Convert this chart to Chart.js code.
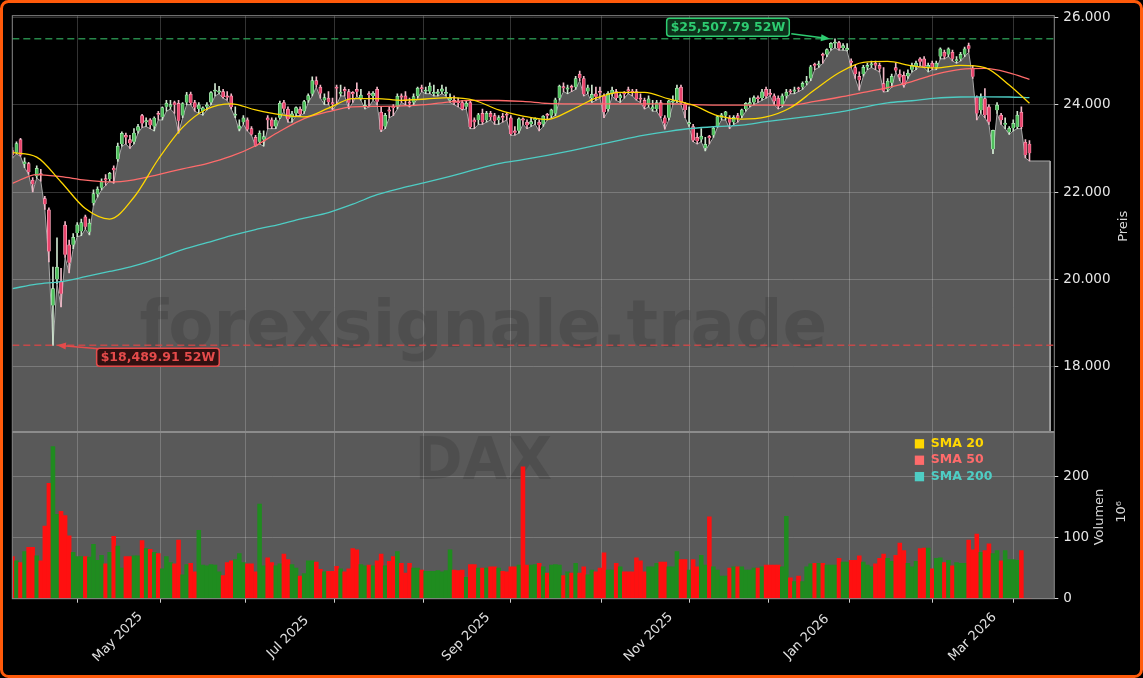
<!DOCTYPE html>
<html>
<head>
<meta charset="utf-8">
<script src="https://cdn.jsdelivr.net/npm/chart.js@4.4.1/dist/chart.umd.min.js"></script>
<style>
  html, body { margin: 0; padding: 0; background: #000; overflow: hidden; }
  #myChart { display: block; }
</style>
</head>
<body>
<canvas id="myChart" width="1143" height="678"></canvas>
<script>
// DAX daily candles [open, high, low, close], 24.03.2025 - 20.03.2026 (trading days)
const candles = [
    // Mar 2025
    [22950,23020,22780,22850],[22900,23150,22870,23110],[23200,23230,22820,22840],[22640,22780,22560,22690],
    [22650,22680,22400,22460],[22270,22330,22000,22180],
    // Apr
    [22360,22600,22320,22540],[22420,22520,22250,22390],[21850,21900,21600,21720],[21590,21640,20400,20640],
    [19400,20280,18489.91,19790],[20000,20950,19900,20280],[19950,20250,19370,19670],[21240,21320,20500,20563],
    [20790,20900,20150,20380],[20790,21050,20700,20960],[21060,21300,20980,21250],[21100,21380,21000,21300],
    [21430,21470,21150,21206],[21090,21380,21020,21290],[21750,22050,21700,21962],[21950,22120,21880,22065],
    [22100,22300,22050,22242],[22300,22400,22150,22272],[22300,22450,22250,22425],[22550,22600,22200,22497],
    // May
    [22750,23120,22700,23050],[23100,23380,23050,23344],[23300,23350,23100,23249],[23200,23300,23000,23116],
    [23150,23450,23100,23352],[23400,23550,23350,23499],[23750,23780,23480,23570],[23600,23700,23500,23638],
    [23650,23680,23450,23527],[23500,23720,23400,23695],[23800,23850,23650,23767],[23720,23950,23650,23934],
    [23950,24100,23850,24036],[23950,24100,23900,23999],[24050,24080,23800,23999],[24030,24100,23350,23630],
    [23750,24050,23700,24027],[24050,24280,24000,24226],[24240,24290,24000,24038],[24050,24100,23850,23933],
    [23900,24050,23800,23997],
    // Jun
    [23850,23950,23760,23930],[23950,24050,23880,23994],[24050,24300,24000,24276],[24300,24480,24200,24323],
    [24280,24420,24250,24304],[24300,24350,24150,24174],[24200,24300,24100,24162],[24200,24250,23900,23948],
    [23750,23950,23700,23771],[23450,23650,23400,23516],[23600,23750,23550,23699],[23650,23700,23400,23434],
    [23450,23500,23300,23317],[23250,23300,23050,23057],[23150,23400,23100,23350],[23200,23400,23050,23269],
    [23700,23750,23450,23641],[23650,23700,23450,23498],[23500,23700,23450,23649],[23700,24080,23680,24033],
    [24050,24100,23850,23909],
    // Jul
    [23900,23950,23600,23673],[23700,23850,23600,23790],[23800,23950,23750,23934],[23900,23950,23750,23787],
    [23850,24100,23800,24073],[24100,24250,24050,24206],[24250,24640,24200,24549],[24550,24640,24400,24457],
    [24400,24450,24150,24255],[24100,24250,24000,24161],[24150,24300,24000,24060],[24050,24150,23880,24009],
    [24400,24450,24000,24371],[24250,24450,24200,24290],[24350,24400,24200,24308],[24300,24350,23900,24041],
    [24280,24300,24050,24240],[24350,24500,24200,24295],[24150,24350,24100,24217],[23950,24100,23900,23970],
    [24250,24300,23950,24218],[24200,24300,24100,24262],[24350,24400,24000,24065],
    // Aug
    [23830,23950,23380,23426],[23500,23800,23450,23757],[23880,23950,23700,23846],[23950,24000,23750,23924],
    [23950,24250,23900,24193],[24200,24250,24050,24163],[24200,24300,24000,24081],[24050,24150,23950,24024],
    [24050,24250,24000,24186],[24200,24400,24150,24377],[24380,24450,24300,24359],[24300,24400,24250,24314],
    [24300,24500,24250,24423],[24250,24450,24200,24277],[24250,24350,24200,24293],[24300,24450,24250,24363],
    [24250,24400,24200,24273],[24100,24250,24050,24152],[24100,24200,24000,24046],[24050,24150,23950,24039],
    [24050,24100,23880,23902],
    // Sep
    [23950,24100,23900,24037],[24050,24100,23450,23487],[23650,23700,23450,23595],[23650,23800,23550,23770],
    [23800,23900,23550,23597],[23650,23850,23600,23807],[23800,23850,23650,23718],[23750,23800,23550,23632],
    [23650,23750,23550,23703],[23720,23800,23600,23698],[23780,23820,23650,23749],[23700,23750,23300,23329],
    [23400,23500,23300,23359],[23400,23700,23350,23675],[23650,23700,23550,23639],[23600,23650,23450,23527],
    [23550,23700,23500,23611],[23650,23700,23550,23666],[23600,23650,23400,23534],[23550,23750,23500,23739],
    [23760,23800,23650,23745],[23750,23900,23700,23880],
    // Oct
    [23800,24150,23750,24113],[24150,24450,24100,24423],[24400,24500,24300,24378],[24350,24450,24250,24378],
    [24400,24450,24300,24385],[24400,24650,24350,24597],[24700,24770,24550,24611],[24600,24650,24200,24241],
    [24300,24450,24250,24388],[24150,24450,24050,24237],[24250,24400,24100,24181],[24300,24400,24150,24272],
    [24200,24250,23700,23830],[23900,24300,23850,24259],[24250,24400,24200,24330],[24300,24350,24100,24151],
    [24150,24250,24050,24207],[24260,24300,24150,24240],[24330,24400,24250,24309],[24300,24350,24200,24279],
    [24300,24350,24100,24124],[24150,24250,24050,24118],[24100,24150,23900,23958],
    // Nov
    [24000,24200,23950,24132],[23900,24100,23850,23950],[23900,24100,23850,24050],[24050,24100,23700,23734],
    [23700,23750,23440,23569],[23700,24100,23650,24088],[24050,24200,24000,24088],[24100,24450,24050,24381],
    [24400,24450,24000,24041],[24000,24050,23700,23877],[23550,23950,23500,23590],[23500,23550,23150,23180],
    [23250,23350,23100,23162],[23200,23450,23150,23278],[23010,23250,22940,23091],[23280,23300,23100,23239],
    [23300,23500,23250,23465],[23500,23750,23480,23726],[23700,23800,23650,23768],[23750,23850,23650,23836],
    // Dec
    [23700,23750,23450,23589],[23600,23750,23550,23710],[23750,23800,23600,23693],[23750,23900,23700,23882],
    [23900,24050,23850,24028],[24000,24150,23950,24046],[24050,24200,24000,24162],[24150,24200,24050,24130],
    [24150,24350,24100,24294],[24350,24400,24150,24186],[24250,24350,24200,24229],[24200,24250,24000,24076],
    [24150,24200,23900,23960],[24000,24250,23950,24200],[24200,24350,24150,24288],[24300,24350,24250,24283],
    [24300,24400,24250,24340],[24380,24400,24300,24351],[24400,24520,24350,24490],
    // Jan 2026
    [24500,24650,24450,24539],[24600,24900,24550,24868],[24900,24950,24800,24892],[24900,25000,24850,24925],
    [25140,25180,24950,25122],[25150,25280,25100,25261],[25300,25420,25250,25405],[25400,25507.79,25300,25420],
    [25420,25450,25250,25286],[25300,25400,25250,25352],[25250,25400,25230,25297],[25000,25050,24850,24959],
    [24850,24900,24600,24703],[24650,24750,24330,24560],[24700,24900,24650,24856],[24850,24950,24800,24900],
    [24900,25000,24850,24933],[24950,25000,24800,24894],[24900,24950,24750,24822],[24480,24850,24290,24320],
    [24350,24600,24300,24538],
    // Feb
    [24500,24700,24400,24650],[24850,24950,24750,24780],[24700,24800,24550,24620],[24670,24750,24400,24450],
    [24650,24800,24600,24720],[24800,24950,24750,24900],[24880,25000,24800,24950],[25050,25080,24900,24980],
    [25050,25100,24850,24870],[24850,24950,24750,24900],[24950,25000,24800,24850],[24850,25000,24800,24950],
    [25100,25300,25050,25280],[25200,25250,25050,25100],[25150,25300,25100,25280],[25200,25250,25000,25050],
    [25000,25100,24950,25020],[25050,25200,25000,25150],[25150,25320,25100,25280],[25350,25410,25200,25280],
    // Mar
    [24830,24900,24600,24640],[24170,24200,23650,23800],[23870,24250,23800,24170],[24140,24370,23700,23760],
    [23950,24000,23550,23610],[22980,23420,22880,23410],[23870,24050,23800,23990],[23760,23800,23550,23650],
    [23540,23700,23450,23580],[23370,23500,23320,23460],[23460,23650,23400,23570],[23490,23850,23450,23760],
    [23830,23950,23450,23490],[23140,23200,22780,22850],[23100,23180,22710,22890]
];

// volume in 10^6
const volumes = [
    69,62,59,77,84,84,
    70,62,119,189,249,138,143,136,103,76,69,69,69,68,89,63,71,57,76,102,
    86,50,69,69,70,70,95,82,81,76,74,49,69,59,57,96,39,56,58,44,112,
    55,54,56,55,44,38,59,62,64,74,59,57,57,44,155,54,67,59,54,57,73,
    64,56,50,37,41,62,62,60,48,44,45,45,53,49,44,49,82,80,56,54,55,54,62,
    73,54,61,69,77,58,42,58,50,50,47,45,45,45,46,44,46,80,47,46,47,
    35,56,56,50,50,50,52,52,50,45,44,52,52,55,216,55,55,56,58,52,42,55,
    56,55,38,44,42,58,42,52,39,47,44,50,75,47,47,58,52,44,44,44,67,62,44,
    52,52,58,60,60,52,52,77,64,64,47,64,52,71,55,134,52,47,37,37,
    50,52,52,52,47,47,50,50,52,55,55,55,55,52,135,34,28,37,28,
    52,57,58,58,58,55,55,55,66,60,60,63,63,70,60,55,52,57,66,73,66,
    61,71,91,79,58,52,61,82,83,83,49,66,67,59,63,54,59,58,58,96,
    80,106,76,79,90,74,79,62,79,64,64,63,79,0,0
];

// moving averages at these trading-day indices
const smaIdx = [0,6,12,18,24,30,36,42,48,54,60,66,72,78,84,90,96,102,108,114,120,126,132,138,144,150,
    156,162,168,174,180,186,192,198,204,210,216,222,228,234,240,246,251];
const sma20 = [22900,22800,22230,21620,21380,21880,22750,23480,23900,24020,23880,23770,23720,23920,24140,
    24140,24100,24130,24160,24100,23880,23740,23660,23880,24150,24280,24280,24130,23990,23750,23670,
    23720,23930,24340,24730,24970,24990,24890,24840,24900,24850,24450,24030];
const sma50 = [22200,22400,22350,22270,22230,22280,22400,22530,22650,22820,23060,23390,23680,23840,23950,
    23960,23970,24000,24065,24100,24095,24075,24030,24020,24020,24020,24020,24020,24000,23990,23990,
    23990,23990,24075,24170,24280,24390,24530,24700,24810,24830,24730,24580];
const sma200 = [19790,19890,19950,20060,20180,20310,20480,20680,20840,21000,21140,21260,21400,21530,21720,
    21940,22090,22220,22360,22510,22650,22740,22840,22950,23070,23190,23300,23390,23460,23500,23530,
    23610,23680,23750,23830,23940,24040,24090,24150,24175,24180,24175,24160];

// first trading day of each month
const monthTicks = [6,26,47,68,91,112,134,157,177,196,217,237];
const monthLabels = ['','May 2025','','Jul 2025','','Sep 2025','','Nov 2025','','Jan 2026','','Mar 2026'];

const high52 = 25507.79;
const low52 = 18489.91;
const areaEndIndex = 256.1;

const FONT = 'DejaVu Sans';
const priceMin = 16505, priceMax = 26037;

const isUp = candles.map(c => c[3] >= c[0]);
const hiIdx = candles.findIndex(c => c[1] === high52);
const loIdx = candles.findIndex(c => c[2] === low52);

var areaData = candles.map((c, i) => ({x: i, y: c[2]}));
areaData.push({x: areaEndIndex, y: candles[candles.length - 1][2]});
areaData.push({x: areaEndIndex, y: priceMin});

function fmtDe(v) {
    return String(v).replace(/\B(?=(\d{3})+(?!\d))/g, '.');
}

function roundRect(ctx, x, y, w, h, r) {
    ctx.beginPath();
    ctx.moveTo(x + r, y);
    ctx.arcTo(x + w, y, x + w, y + h, r);
    ctx.arcTo(x + w, y + h, x, y + h, r);
    ctx.arcTo(x, y + h, x, y, r);
    ctx.arcTo(x, y, x + w, y, r);
    ctx.closePath();
}

function drawTag(ctx, text, cx, cy, fg, bg) {
    ctx.font = 'bold 12.5px ' + FONT;
    var w = ctx.measureText(text).width + 8, h = 18;
    roundRect(ctx, cx - w / 2, cy - h / 2, w, h, 3);
    ctx.fillStyle = bg;
    ctx.fill();
    ctx.lineWidth = 1.5;
    ctx.strokeStyle = fg;
    ctx.stroke();
    ctx.fillStyle = fg;
    ctx.textAlign = 'center';
    ctx.textBaseline = 'middle';
    ctx.fillText(text, cx, cy + 0.5);
    return w;
}

function drawArrow(ctx, x0, y0, x1, y1, color) {
    var a = Math.atan2(y1 - y0, x1 - x0);
    ctx.strokeStyle = color;
    ctx.fillStyle = color;
    ctx.lineWidth = 1.6;
    ctx.beginPath();
    ctx.moveTo(x0, y0);
    ctx.lineTo(x1 - 6 * Math.cos(a), y1 - 6 * Math.sin(a));
    ctx.stroke();
    ctx.beginPath();
    ctx.moveTo(x1, y1);
    ctx.lineTo(x1 - 9 * Math.cos(a) + 3.5 * Math.sin(a), y1 - 9 * Math.sin(a) - 3.5 * Math.cos(a));
    ctx.lineTo(x1 - 9 * Math.cos(a) - 3.5 * Math.sin(a), y1 - 9 * Math.sin(a) + 3.5 * Math.cos(a));
    ctx.closePath();
    ctx.fill();
}

const panes = {
    id: 'panes',
    beforeDraw(chart) {
        const ctx = chart.ctx, area = chart.chartArea, v = chart.scales.yVol;
        ctx.save();
        ctx.fillStyle = '#595959';
        ctx.fillRect(area.left, v.top, area.right - area.left, v.bottom - v.top);
        ctx.restore();
    },
    beforeDatasetsDraw(chart) {
        const ctx = chart.ctx, area = chart.chartArea, v = chart.scales.yVol;
        ctx.save();
        ctx.font = 'bold 58px ' + FONT;
        ctx.fillStyle = 'rgba(0,0,0,0.12)';
        ctx.textAlign = 'center';
        ctx.textBaseline = 'middle';
        ctx.fillText('DAX', area.left + (area.right - area.left) * 0.452, v.top + (v.bottom - v.top) * 0.19);
        ctx.restore();
    },
    afterDatasetsDraw(chart) {
        const ctx = chart.ctx, area = chart.chartArea;
        const x = chart.scales.x, y = chart.scales.y;
        ctx.save();
        // watermark
        ctx.font = 'bold 66px ' + FONT;
        ctx.fillStyle = 'rgba(0,0,0,0.12)';
        ctx.textAlign = 'center';
        ctx.textBaseline = 'middle';
        ctx.fillText('forexsignale.trade', area.left + (area.right - area.left) * 0.452, y.top + (y.bottom - y.top) * 0.755);

        // 52 week lines
        ctx.setLineDash([7, 4]);
        ctx.lineWidth = 1.5;
        ctx.strokeStyle = 'rgba(46,160,87,0.85)';
        ctx.beginPath();
        ctx.moveTo(area.left, y.getPixelForValue(high52));
        ctx.lineTo(area.right, y.getPixelForValue(high52));
        ctx.stroke();
        ctx.strokeStyle = 'rgba(215,70,70,0.85)';
        ctx.beginPath();
        ctx.moveTo(area.left, y.getPixelForValue(low52));
        ctx.lineTo(area.right, y.getPixelForValue(low52));
        ctx.stroke();
        ctx.setLineDash([]);

        // tags
        var hx = x.getPixelForValue(hiIdx), hy = y.getPixelForValue(high52);
        var gw = drawTag(ctx, '$' + high52.toLocaleString('en-US', {minimumFractionDigits: 2}) + ' 52W',
            hx - 107, hy - 11.5, '#2ecc71', 'rgba(14,52,28,0.95)');
        drawArrow(ctx, hx - 107 + gw / 2 + 2, hy - 5, hx - 5, hy, '#2ecc71');

        var lx = x.getPixelForValue(loIdx), ly = y.getPixelForValue(low52);
        var rw = drawTag(ctx, '$' + low52.toLocaleString('en-US', {minimumFractionDigits: 2}) + ' 52W',
            lx + 105, ly + 12, '#e54b4b', 'rgba(48,14,14,0.95)');
        drawArrow(ctx, lx + 105 - rw / 2 + 2, ly + 3.5, lx + 4, ly, '#e54b4b');

        // legend
        const v = chart.scales.yVol;
        ctx.font = 'bold 12.5px ' + FONT;
        ctx.textAlign = 'left';
        ctx.textBaseline = 'middle';
        [['SMA 20', '#FFD700'], ['SMA 50', '#FF6B6B'], ['SMA 200', '#4ECDC4']].forEach(function(item, k) {
            var ry = v.top + 11.8 + k * 16.4;
            ctx.fillStyle = item[1];
            ctx.fillRect(area.right - 139.5, ry - 4.6, 9.3, 9.3);
            ctx.fillText(item[0], area.right - 123.5, ry);
        });
        ctx.restore();
    },
    afterDraw(chart) {
        const ctx = chart.ctx, area = chart.chartArea;
        const x = chart.scales.x, y = chart.scales.y, v = chart.scales.yVol;
        ctx.save();
        // frame and pane separator
        ctx.strokeStyle = '#8a8a8a';
        ctx.lineWidth = 1;
        ctx.strokeRect(area.left, area.top, area.right - area.left, area.bottom - area.top);
        ctx.lineWidth = 1.8;
        ctx.strokeStyle = '#8c8c8c';
        ctx.beginPath();
        ctx.moveTo(area.left, y.bottom);
        ctx.lineTo(area.right, y.bottom);
        ctx.stroke();

        // month labels, rotated 45 around their centre
        ctx.font = '13px ' + FONT;
        ctx.fillStyle = '#e0e0e0';
        ctx.textAlign = 'center';
        ctx.textBaseline = 'middle';
        monthTicks.forEach(function(t, k) {
            if (!monthLabels[k]) return;
            ctx.save();
            ctx.translate(x.getPixelForValue(t), area.bottom + 38.5);
            ctx.rotate(-Math.PI / 4);
            ctx.fillText(monthLabels[k], 0, 0);
            ctx.restore();
        });

        // axis titles
        ctx.fillStyle = '#d8d8d8';
        ctx.save();
        ctx.translate(1124, y.top + (y.bottom - y.top) * 0.506);
        ctx.rotate(-Math.PI / 2);
        ctx.fillText('Preis', 0, 0);
        ctx.restore();
        ctx.save();
        ctx.translate(1100, v.top + 85);
        ctx.rotate(-Math.PI / 2);
        ctx.fillText('Volumen', 0, 0);
        ctx.restore();
        ctx.save();
        ctx.translate(1122, v.top + 80);
        ctx.rotate(-Math.PI / 2);
        ctx.fillText('10\u2076', 0, 0);
        ctx.restore();

        // outer border
        ctx.strokeStyle = '#ff5a0a';
        ctx.lineWidth = 3;
        roundRect(ctx, 1.5, 1.5, chart.width - 3, chart.height - 3, 7);
        ctx.stroke();
        ctx.restore();
    }
};

const gridColor = 'rgba(255,255,255,0.2)';
const tickColor = '#d0d0d0';

const ctx = document.getElementById('myChart').getContext('2d');
const myChart = new Chart(ctx, {
    type: 'bar',
    data: {
        datasets: [
            {
                type: 'line',
                label: 'SMA 20',
                data: smaIdx.map((t, k) => ({x: t, y: sma20[k]})),
                borderColor: '#FFD700',
                borderWidth: 1.3,
                pointRadius: 0,
                cubicInterpolationMode: 'monotone',
                yAxisID: 'y',
                order: 1
            },
            {
                type: 'line',
                label: 'SMA 50',
                data: smaIdx.map((t, k) => ({x: t, y: sma50[k]})),
                borderColor: '#FF6B6B',
                borderWidth: 1.3,
                pointRadius: 0,
                cubicInterpolationMode: 'monotone',
                yAxisID: 'y',
                order: 2
            },
            {
                type: 'line',
                label: 'SMA 200',
                data: smaIdx.map((t, k) => ({x: t, y: sma200[k]})),
                borderColor: '#4ECDC4',
                borderWidth: 1.3,
                pointRadius: 0,
                cubicInterpolationMode: 'monotone',
                yAxisID: 'y',
                order: 3
            },
            {
                label: 'Body',
                data: candles.map((c, i) => ({x: i, y: [c[0], c[3]]})),
                backgroundColor: isUp.map(u => u ? '#4fbf5c' : '#e8446c'),
                borderColor: isUp.map(u => u ? '#b8efc0' : '#ffb0c4'),
                borderWidth: 0.7,
                barThickness: 3.2,
                minBarLength: 1.5,
                grouped: false,
                yAxisID: 'y',
                order: 4
            },
            {
                label: 'Wick',
                data: candles.map((c, i) => ({x: i, y: [c[2], c[1]]})),
                backgroundColor: isUp.map(u => u ? '#cfe6cf' : '#f0b8c6'),
                barThickness: 1,
                grouped: false,
                yAxisID: 'y',
                order: 5
            },
            {
                type: 'line',
                label: 'Low',
                data: areaData,
                borderColor: '#a8a8a8',
                borderWidth: 1,
                backgroundColor: 'rgba(255,255,255,0.35)',
                fill: 'start',
                pointRadius: 0,
                tension: 0,
                yAxisID: 'y',
                order: 10
            },
            {
                label: 'Volumen',
                data: volumes.map((v, i) => ({x: i, y: v})),
                backgroundColor: isUp.map(u => u ? '#1f8c1f' : '#ff1010'),
                barThickness: 3.9,
                grouped: false,
                yAxisID: 'yVol',
                order: 0
            }
        ]
    },
    options: {
        responsive: false,
        animation: false,
        devicePixelRatio: 1,
        layout: { padding: { left: 12.3, top: 15.7, right: 0, bottom: 0 } },
        plugins: {
            legend: { display: false },
            tooltip: { enabled: false }
        },
        scales: {
            x: {
                type: 'linear',
                position: 'bottom',
                offset: false,
                min: -0.03,
                max: 257.13,
                afterBuildTicks: scale => { scale.ticks = monthTicks.map(t => ({value: t})); },
                afterFit: scale => { scale.height = 79.3; },
                ticks: { display: false },
                grid: { color: gridColor, tickColor: tickColor, tickLength: 4, drawTicks: true },
                border: { display: false }
            },
            y: {
                position: 'right',
                stack: 'panes',
                stackWeight: 2.497,
                min: priceMin,
                max: priceMax,
                afterBuildTicks: scale => { scale.ticks = [18000, 20000, 22000, 24000, 26000].map(v => ({value: v})); },
                afterFit: scale => { scale.width = 88.7; },
                ticks: {
                    color: '#e6e6e6',
                    font: { family: FONT, size: 13.5 },
                    padding: 5,
                    callback: v => fmtDe(v)
                },
                grid: { color: gridColor, tickColor: tickColor, tickLength: 4 },
                border: { display: false }
            },
            yVol: {
                position: 'right',
                stack: 'panes',
                stackWeight: 1,
                offset: false,
                min: 0,
                max: 273,
                afterBuildTicks: scale => { scale.ticks = [0, 100, 200].map(v => ({value: v})); },
                afterFit: scale => { scale.width = 88.7; },
                ticks: {
                    color: '#e6e6e6',
                    font: { family: FONT, size: 13.5 },
                    padding: 5
                },
                grid: { color: gridColor, tickColor: tickColor, tickLength: 4 },
                border: { display: false }
            }
        }
    },
    plugins: [panes]
});
</script>
</body>
</html>
